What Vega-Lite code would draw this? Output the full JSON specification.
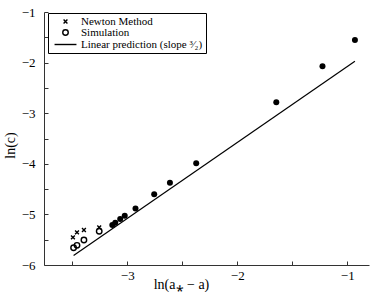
{
  "$schema": "https://vega.github.io/schema/vega-lite/v6.json",
  "width": 325,
  "height": 253,
  "autosize": {"type": "none"},
  "padding": {"left": 44, "top": 12, "right": 5, "bottom": 27},
  "config": {
    "view": {"stroke": null},
    "font": "Liberation Serif",
    "legend": {"strokeWidth": 1},
    "axis": {
      "grid": false,
      "domainColor": "#333333",
      "domainWidth": 1,
      "tickColor": "#333333",
      "tickSize": -4,
      "labelOverlap": false,
      "labelFlush": false,
      "labelColor": "#000000",
      "labelFont": "Liberation Serif",
      "labelFontSize": 13,
      "titleFont": "Liberation Serif",
      "titleFontSize": 14,
      "titleFontWeight": "normal",
      "titleColor": "#000000"
    }
  },
  "datasets": {
    "filled": [
      {"x": -0.930, "y": -1.553},
      {"x": -1.225, "y": -2.073},
      {"x": -1.645, "y": -2.785},
      {"x": -2.373, "y": -3.990},
      {"x": -2.612, "y": -4.374},
      {"x": -2.755, "y": -4.603},
      {"x": -2.925, "y": -4.883},
      {"x": -3.023, "y": -5.028},
      {"x": -3.064, "y": -5.091},
      {"x": -3.109, "y": -5.166},
      {"x": -3.136, "y": -5.209}
    ],
    "marked": [
      {"series": "Newton Method", "x": -3.494, "y": -5.453},
      {"series": "Newton Method", "x": -3.457, "y": -5.354},
      {"series": "Newton Method", "x": -3.394, "y": -5.308},
      {"series": "Newton Method", "x": -3.255, "y": -5.255},
      {"series": "Simulation", "x": -3.488, "y": -5.658},
      {"series": "Simulation", "x": -3.457, "y": -5.611},
      {"series": "Simulation", "x": -3.394, "y": -5.506},
      {"series": "Simulation", "x": -3.255, "y": -5.334}
    ],
    "line": [
      {"x": -3.488, "y": -5.811},
      {"x": -0.930, "y": -1.974}
    ]
  },
  "encoding": {
    "x": {
      "field": "x",
      "type": "quantitative",
      "scale": {"domain": [-3.757, -0.802], "nice": false, "zero": false},
      "axis": {
        "title": "ln(a⁎ − a)",
        "values": [-3.5, -3, -2.5, -2, -1.5, -1],
        "labelExpr": "datum.value % 1 === 0 ? format(datum.value, 'd') : ''",
        "labelPadding": 8,
        "titleX": 137,
        "titleY": 19,
        "titleAlign": "center",
        "titleBaseline": "middle"
      }
    },
    "y": {
      "field": "y",
      "type": "quantitative",
      "scale": {"domain": [-6, -1], "nice": false, "zero": false},
      "axis": {
        "title": "ln(c)",
        "values": [-6, -5.5, -5, -4.5, -4, -3.5, -3, -2.5, -2, -1.5, -1],
        "labelExpr": "datum.value % 1 === 0 ? format(datum.value, 'd') : ''",
        "labelPadding": 13,
        "titleX": -34,
        "titleY": 133,
        "titleAlign": "center",
        "titleBaseline": "middle"
      }
    }
  },
  "layer": [
    {
      "data": {"name": "line"},
      "mark": {"type": "line", "color": "#000000", "strokeWidth": 1.2}
    },
    {
      "data": {"name": "filled"},
      "mark": {"type": "point", "shape": "circle", "filled": true, "color": "#000000", "size": 36, "opacity": 1}
    },
    {
      "data": {"name": "marked"},
      "mark": {"type": "point", "filled": false, "color": "#000000", "strokeWidth": 1.4, "size": 30, "opacity": 1},
      "encoding": {
        "shape": {
          "field": "series",
          "type": "nominal",
          "scale": {
            "domain": ["Newton Method", "Simulation", "Linear prediction (slope ³⁄₂)"],
            "range": [
              "M-0.7,-0.7L0.7,0.7M-0.7,0.7L0.7,-0.7",
              "circle",
              "M-4,0L4,0"
            ]
          },
          "legend": {
            "title": null,
            "orient": "none",
            "legendX": 4,
            "legendY": 1,
            "direction": "vertical",
            "fillColor": "#ffffff",
            "strokeColor": "#000000",
            "cornerRadius": 0,
            "padding": 3,
            "symbolSize": 30,
            "symbolStrokeWidth": 1.4,
            "symbolStrokeColor": "#000000",
            "symbolFillColor": "transparent",
            "symbolOffset": 9,
            "labelOffset": 10,
            "labelFont": "Liberation Serif",
            "labelFontSize": 11,
            "labelColor": "#000000",
            "rowPadding": -2,
            "labelLimit": 300
          }
        }
      }
    }
  ]
}
